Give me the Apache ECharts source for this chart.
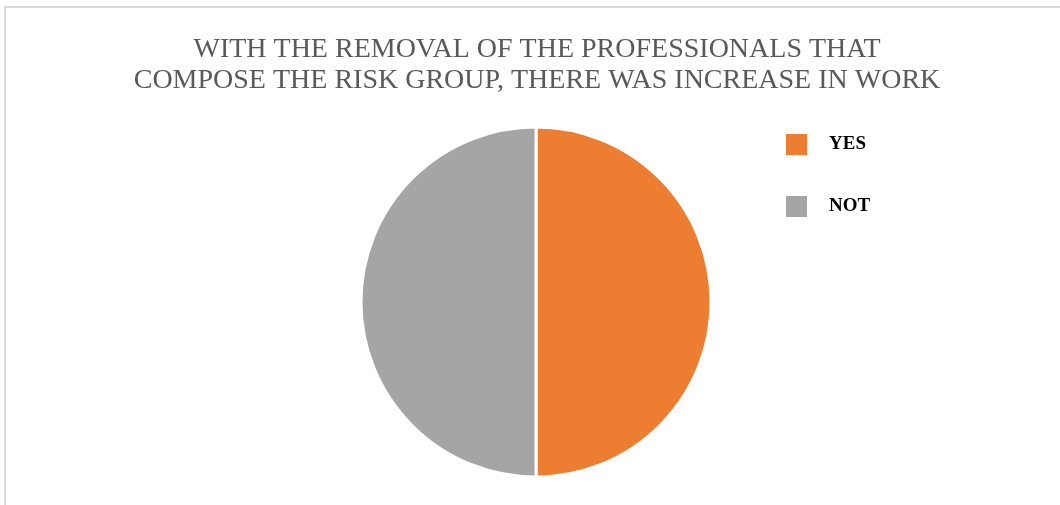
<!DOCTYPE html>
<html>
<head>
<meta charset="utf-8">
<script src="https://cdn.jsdelivr.net/npm/echarts@6/dist/echarts.min.js"></script>
<style>
  html, body { margin: 0; padding: 0; background: #fff; }
  #chart {
    position: absolute; left: 4px; top: 6px;
    width: 1056px; height: 499px;
    border-top: 2px solid #d9d9d9;
    border-left: 2px solid #d9d9d9;
  }
</style>
</head>
<body>
<div id="chart"></div>
<script>
// 饼图数据
var categories = ['YES', 'NOT'];
var values = [50, 50];
var colors = ['#ED7D31', '#A5A5A5'];

var myChart = echarts.init(document.getElementById('chart'));

var pieData = [];
categories.forEach(function (name, i) {
    pieData.push({ name: name, value: values[i], itemStyle: { color: colors[i] } });
});

var option = {
    animation: false,
    title: {
        text: 'WITH THE REMOVAL OF THE PROFESSIONALS THAT\nCOMPOSE THE RISK GROUP, THERE WAS INCREASE IN WORK',
        left: 526,
        top: 21,
        textAlign: 'center',
        textStyle: {
            fontFamily: 'Liberation Serif',
            fontWeight: 'normal',
            fontSize: 28,
            lineHeight: 31,
            color: '#595959'
        }
    },
    legend: {
        orient: 'vertical',
        left: 773,
        top: 119,
        icon: 'rect',
        itemWidth: 23,
        itemHeight: 23,
        itemGap: 37,
        data: categories,
        textStyle: {
            fontFamily: 'Liberation Serif',
            fontWeight: 'bold',
            fontSize: 19,
            color: '#000',
            padding: [0, 0, 0, 16]
        }
    },
    series: [{
        type: 'pie',
        center: [530, 294],
        radius: 175,
        startAngle: 90,
        label: { show: false },
        labelLine: { show: false },
        itemStyle: { borderColor: '#fff', borderWidth: 3 },
        data: pieData
    }]
};

myChart.setOption(option);
</script>
</body>
</html>
